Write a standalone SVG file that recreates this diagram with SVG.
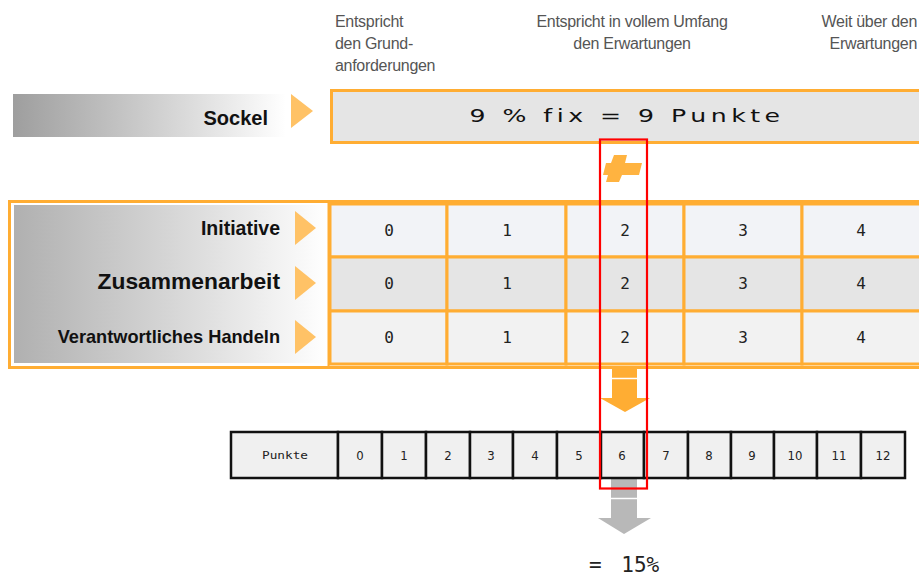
<svg xmlns="http://www.w3.org/2000/svg" width="919" height="578" viewBox="0 0 919 578">
  <defs>
    <linearGradient id="fadeBar" x1="0" y1="0" x2="1" y2="0">
      <stop offset="0" stop-color="#9e9e9e"/>
      <stop offset="0.55" stop-color="#d2d2d2"/>
      <stop offset="1" stop-color="#ffffff"/>
    </linearGradient>
    <linearGradient id="fadeBlock" x1="0" y1="0" x2="1" y2="0">
      <stop offset="0" stop-color="#b0b0b0"/>
      <stop offset="0.5" stop-color="#d6d6d6"/>
      <stop offset="1" stop-color="#ffffff"/>
    </linearGradient>
    <style>
      .hdr { font-family: "Liberation Sans", Arial, sans-serif; font-size: 16px; fill: #555555; letter-spacing: -0.3px; }
      .lbl { font-family: "Liberation Sans", Arial, sans-serif; font-weight: bold; fill: #111111; text-anchor: end; }
      .tri { fill: #ffc266; }
      .cell { stroke: #ffad33; stroke-width: 3; }
      .num { font-family: "DejaVu Sans Mono", monospace; font-size: 16px; fill: #222222; text-anchor: middle; }
      .pt { fill: #f0f0f0; stroke: #111111; stroke-width: 2.5; }
      .ptn { font-family: "DejaVu Sans Condensed", "Liberation Sans", sans-serif; font-size: 13px; fill: #222222; text-anchor: middle; }
    </style>
  </defs>

  <rect width="919" height="578" fill="#ffffff"/>

  <!-- column headings -->
  <g id="headings">
    <text class="hdr" x="335" y="27">Entspricht</text>
    <text class="hdr" x="335" y="49">den Grund-</text>
    <text class="hdr" x="335" y="71">anforderungen</text>
    <text class="hdr" x="632" y="27" text-anchor="middle">Entspricht in vollem Umfang</text>
    <text class="hdr" x="632" y="49" text-anchor="middle">den Erwartungen</text>
    <text class="hdr" x="917" y="27" text-anchor="end">Weit über den</text>
    <text class="hdr" x="917" y="49" text-anchor="end">Erwartungen</text>
  </g>

  <!-- base row -->
  <g id="sockel">
    <rect x="13" y="94" width="273" height="43" fill="url(#fadeBar)"/>
    <text class="lbl" x="268" y="125" font-size="20">Sockel</text>
    <polygon class="tri" points="291,94 313,111 291,128"/>
    <rect x="331.5" y="90.5" width="600" height="52" fill="#e5e5e5" stroke="#ffad33" stroke-width="3"/>
    <text transform="translate(627,122) scale(1.4,1)" x="0" y="0" text-anchor="middle" font-family="DejaVu Sans, sans-serif" font-size="18" letter-spacing="3.2" fill="#111111">9 % fix = 9 Punkte</text>
  </g>

  <!-- plus sign -->
  <g id="plus">
    <polygon points="614,155 627,155 625,163 642,163 639,175 622,175 619,182 606,182 608,175 603,175 606,163 611,163" fill="#ffb340"/>
  </g>

  <!-- criteria table -->
  <g id="criteria">
    <rect x="9.5" y="201.5" width="930" height="166" fill="#ffffff" stroke="#ffad33" stroke-width="3"/>
    <rect x="14" y="205" width="314" height="158" fill="url(#fadeBlock)"/>
    <line x1="328.5" y1="203" x2="328.5" y2="366" stroke="#ffad33" stroke-width="2"/>

    <text class="lbl" x="280" y="235" font-size="19.5">Initiative</text>
    <text class="lbl" x="280" y="289" font-size="22.8">Zusammenarbeit</text>
    <text class="lbl" x="280" y="343" font-size="18.2">Verantwortliches Handeln</text>
    <polygon class="tri" points="295,211 316,228 295,245"/>
    <polygon class="tri" points="295,266 316,283 295,300"/>
    <polygon class="tri" points="295,320 316,337 295,354"/>

    <!-- row 1 -->
    <rect class="cell" x="330" y="204" width="117" height="53" fill="#f2f3f7"/>
    <rect class="cell" x="447" y="204" width="119" height="53" fill="#f2f3f7"/>
    <rect class="cell" x="566" y="204" width="118" height="53" fill="#f2f3f7"/>
    <rect class="cell" x="684" y="204" width="118" height="53" fill="#f2f3f7"/>
    <rect class="cell" x="802" y="204" width="130" height="53" fill="#f2f3f7"/>
    <!-- row 2 -->
    <rect class="cell" x="330" y="257" width="117" height="54" fill="#e5e5e5"/>
    <rect class="cell" x="447" y="257" width="119" height="54" fill="#e5e5e5"/>
    <rect class="cell" x="566" y="257" width="118" height="54" fill="#e5e5e5"/>
    <rect class="cell" x="684" y="257" width="118" height="54" fill="#e5e5e5"/>
    <rect class="cell" x="802" y="257" width="130" height="54" fill="#e5e5e5"/>
    <!-- row 3 -->
    <rect class="cell" x="330" y="311" width="117" height="53" fill="#f2f2f2"/>
    <rect class="cell" x="447" y="311" width="119" height="53" fill="#f2f2f2"/>
    <rect class="cell" x="566" y="311" width="118" height="53" fill="#f2f2f2"/>
    <rect class="cell" x="684" y="311" width="118" height="53" fill="#f2f2f2"/>
    <rect class="cell" x="802" y="311" width="130" height="53" fill="#f2f2f2"/>

    <g class="num">
      <text x="389" y="236">0</text><text x="507" y="236">1</text><text x="625" y="236">2</text><text x="743" y="236">3</text><text x="861" y="236">4</text>
      <text x="389" y="289">0</text><text x="507" y="289">1</text><text x="625" y="289">2</text><text x="743" y="289">3</text><text x="861" y="289">4</text>
      <text x="389" y="343">0</text><text x="507" y="343">1</text><text x="625" y="343">2</text><text x="743" y="343">3</text><text x="861" y="343">4</text>
    </g>
  </g>

  <!-- arrows -->
  <g id="connectors">
    <g id="arrow-down-orange">
      <rect x="612" y="368" width="25" height="30" fill="#ffad33"/>
      <line x1="612" y1="378.5" x2="637" y2="378.5" stroke="#ffffff" stroke-width="1.5"/>
      <polygon points="600,398 650,398 625,412" fill="#ffad33"/>
    </g>
    <g id="arrow-down-grey">
      <rect x="611" y="479" width="26" height="41" fill="#b8b8b8"/>
      <line x1="611" y1="498.5" x2="637" y2="498.5" stroke="#ffffff" stroke-width="1.5"/>
      <polygon points="598,518 651,518 624,534" fill="#b8b8b8"/>
    </g>
  </g>

  <!-- points scale -->
  <g id="scale">
    <rect class="pt" x="231" y="432" width="107" height="46"/>
    <text x="285" y="459" text-anchor="middle" font-family="DejaVu Sans Mono, monospace" font-size="10" fill="#222222" textLength="46" lengthAdjust="spacingAndGlyphs">Punkte</text>
    <rect class="pt" x="338" y="432" width="44" height="46"/>
    <rect class="pt" x="382" y="432" width="44" height="46"/>
    <rect class="pt" x="426" y="432" width="44" height="46"/>
    <rect class="pt" x="470" y="432" width="43" height="46"/>
    <rect class="pt" x="513" y="432" width="44" height="46"/>
    <rect class="pt" x="557" y="432" width="44" height="46"/>
    <rect class="pt" x="601" y="432" width="43" height="46"/>
    <rect class="pt" x="644" y="432" width="44" height="46"/>
    <rect class="pt" x="688" y="432" width="43" height="46"/>
    <rect class="pt" x="731" y="432" width="43" height="46"/>
    <rect class="pt" x="774" y="432" width="43" height="46"/>
    <rect class="pt" x="817" y="432" width="44" height="46"/>
    <rect class="pt" x="861" y="432" width="44" height="46"/>
    <g class="ptn">
      <text x="360" y="460">0</text><text x="404" y="460">1</text><text x="448" y="460">2</text><text x="491" y="460">3</text>
      <text x="535" y="460">4</text><text x="579" y="460">5</text><text x="622" y="460">6</text><text x="666" y="460">7</text>
      <text x="709" y="460">8</text><text x="752" y="460">9</text><text x="795" y="460">10</text><text x="839" y="460">11</text>
      <text x="883" y="460">12</text>
    </g>
  </g>

  <!-- highlighted column -->
  <rect id="highlight" x="600" y="139.5" width="47" height="349" fill="none" stroke="#ff0000" stroke-width="2.2"/>

  <text id="result" x="589" y="572" font-family="DejaVu Sans Mono, monospace" font-size="21" word-spacing="7" fill="#222222">= 15%</text>
</svg>
